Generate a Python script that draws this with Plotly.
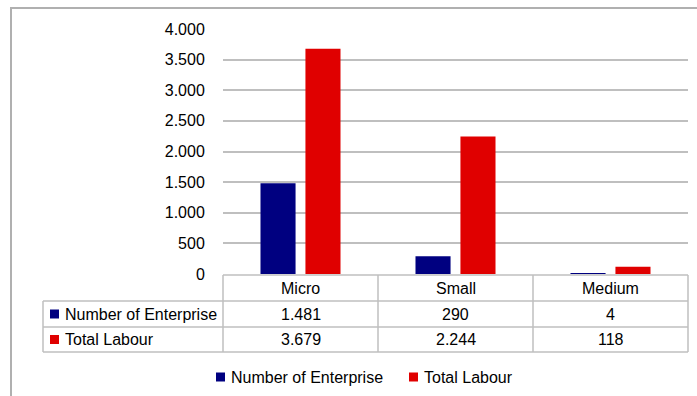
import plotly.graph_objects as go

categories = ["Micro", "Small", "Medium"]
series_names = ["Number of Enterprise", "Total Labour"]
enterprise = [1481, 290, 4]
labour = [3679, 2244, 118]
enterprise_labels = ["1.481", "290", "4"]
labour_labels = ["3.679", "2.244", "118"]
y_ticks = [0, 500, 1000, 1500, 2000, 2500, 3000, 3500, 4000]
y_tick_labels = ["0", "500", "1.000", "1.500", "2.000", "2.500", "3.000", "3.500", "4.000"]

BLUE = "#000080"
RED = "#E00000"
GRID = "#BFBFBF"
FONT = "Liberation Sans"
W, H = 697, 396


def px(x):
    return x / W


def py(y):
    return 1 - y / H


x0, x1 = 223, 688
y_top, y_bot = 29, 274

fig = go.Figure()
fig.add_trace(go.Bar(x=categories, y=enterprise, name=series_names[0],
                     marker=dict(color=BLUE, line=dict(width=0))))
fig.add_trace(go.Bar(x=categories, y=labour, name=series_names[1],
                     marker=dict(color=RED, line=dict(width=0))))

shapes = []
ann = []
# outer chart border (top and left)
shapes.append(dict(type="line", xref="paper", yref="paper", x0=px(10), x1=px(697), y0=py(8), y1=py(8),
                   line=dict(color="#B0B0B0", width=2)))
shapes.append(dict(type="line", xref="paper", yref="paper", x0=px(11), x1=px(11), y0=py(7), y1=py(396),
                   line=dict(color="#B0B0B0", width=2)))

# data table
row_y = [275, 301, 327, 352]
col_x = [x0, x0 + (x1 - x0) / 3, x0 + 2 * (x1 - x0) / 3, x1]
lc = 43
tl = dict(color=GRID, width=1.5)
shapes.append(dict(type="line", xref="paper", yref="paper", x0=px(x0), x1=px(x1), y0=py(row_y[0]), y1=py(row_y[0]), line=tl))
for yy in row_y[1:]:
    shapes.append(dict(type="line", xref="paper", yref="paper", x0=px(lc), x1=px(x1), y0=py(yy), y1=py(yy), line=tl))
for xx in col_x:
    shapes.append(dict(type="line", xref="paper", yref="paper", x0=px(xx), x1=px(xx), y0=py(row_y[0]), y1=py(row_y[3]), line=tl))
shapes.append(dict(type="line", xref="paper", yref="paper", x0=px(lc), x1=px(lc), y0=py(row_y[1]), y1=py(row_y[3]), line=tl))

fnt = dict(family=FONT, size=16, color="#000000")


def cell(xc, yc, text):
    ann.append(dict(x=px(xc), y=py(yc), xanchor="center", yanchor="middle", text=text, showarrow=False,
                    xref="paper", yref="paper", font=fnt))


for i, c in enumerate(categories):
    cx = (col_x[i] + col_x[i + 1]) / 2
    cell(cx, (row_y[0] + row_y[1]) / 2, c)
    cell(cx, (row_y[1] + row_y[2]) / 2, enterprise_labels[i])
    cell(cx, (row_y[2] + row_y[3]) / 2, labour_labels[i])


def key(xl, yc, colr, label):
    shapes.append(dict(type="rect", xref="paper", yref="paper", x0=px(xl), x1=px(xl + 9),
                       y0=py(yc + 4.5), y1=py(yc - 4.5), fillcolor=colr, line=dict(width=0)))
    ann.append(dict(x=px(xl + 13), y=py(yc), xanchor="left", yanchor="middle", text=label, showarrow=False,
                    xref="paper", yref="paper", font=fnt))


for j, (nm, colr) in enumerate(zip(series_names, [BLUE, RED])):
    key(50, (row_y[1 + j] + row_y[2 + j]) / 2, colr, nm)

# bottom legend
key(216, 377, BLUE, series_names[0])
key(409, 377, RED, series_names[1])

fig.update_layout(
    width=W, height=H, autosize=False,
    margin=dict(l=0, r=0, t=0, b=0, pad=0, autoexpand=False),
    paper_bgcolor="white", plot_bgcolor="white",
    barmode="group", bargap=0.42, bargroupgap=0.22,
    showlegend=False,
    font=fnt,
    shapes=shapes,
    annotations=ann,
    xaxis=dict(domain=[px(x0), px(x1)], showticklabels=False, showgrid=False, showline=False, zeroline=False,
               ticks="", automargin=False),
    yaxis=dict(domain=[py(y_bot), py(y_top)], range=[0, 4000], tickvals=y_ticks, ticktext=y_tick_labels,
               showgrid=True, gridcolor=GRID, gridwidth=1.5, zeroline=False, showline=False, automargin=False,
               ticks="outside", ticklen=14, tickcolor="rgba(0,0,0,0)", tickfont=fnt),
)

fig.write_html("out.html", config={"displayModeBar": False, "responsive": False},
               post_script="document.body.style.margin='0px';document.body.style.overflow='hidden';")
